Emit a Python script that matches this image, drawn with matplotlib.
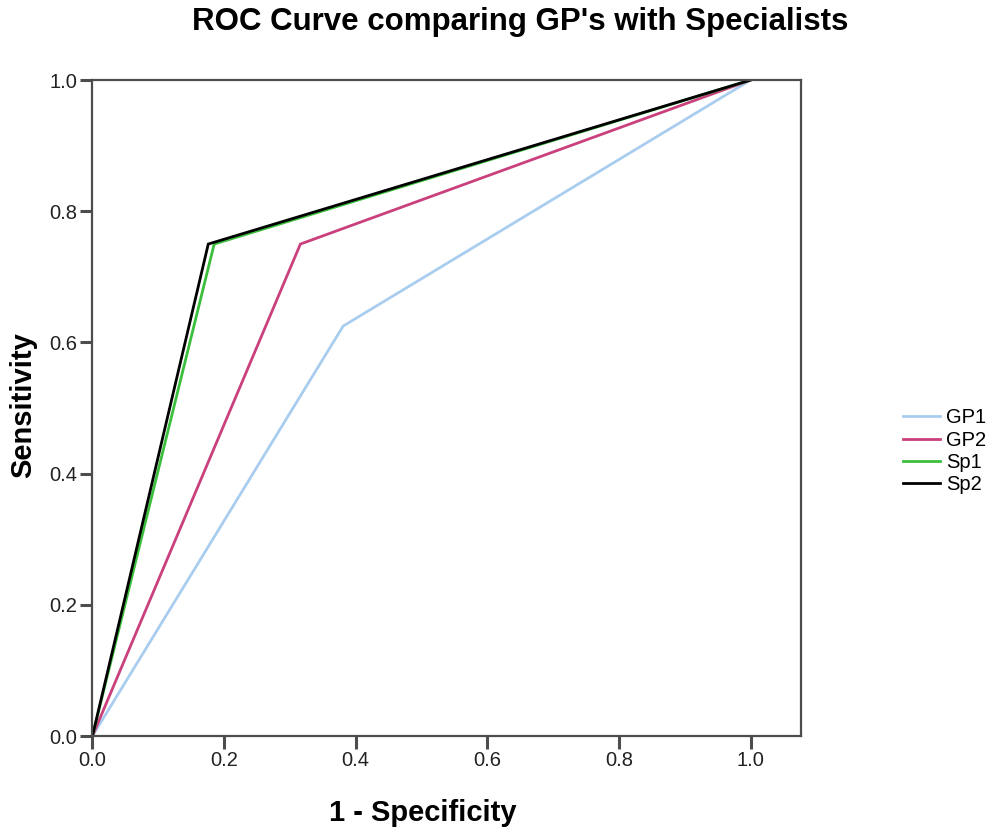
import matplotlib
matplotlib.use("Agg")
import matplotlib.pyplot as plt

# ROC points
series_names = ["GP1", "GP2", "Sp1", "Sp2"]
gp1_fpr = [0.0, 0.381, 1.0]
gp1_tpr = [0.0, 0.625, 1.0]
gp2_fpr = [0.0, 0.316, 1.0]
gp2_tpr = [0.0, 0.75, 1.0]
sp1_fpr = [0.0, 0.185, 1.0]
sp1_tpr = [0.0, 0.75, 1.0]
sp2_fpr = [0.0, 0.176, 1.0]
sp2_tpr = [0.0, 0.75, 1.0]
ticks = [0.0, 0.2, 0.4, 0.6, 0.8, 1.0]
tick_labels = ["0.0", "0.2", "0.4", "0.6", "0.8", "1.0"]

colors = {
    "GP1": "#a9cdef",
    "GP2": "#c9407c",
    "Sp1": "#3cbf3c",
    "Sp2": "#000000",
}

plt.rcParams["font.family"] = ["Liberation Sans", "DejaVu Sans"]

fig = plt.figure(figsize=(9.92, 8.34), dpi=100)
ax = fig.add_axes([0.0932, 0.1175, 0.7138, 0.7865])

data = [
    ("GP1", gp1_fpr, gp1_tpr),
    ("GP2", gp2_fpr, gp2_tpr),
    ("Sp1", sp1_fpr, sp1_tpr),
    ("Sp2", sp2_fpr, sp2_tpr),
]
for name, xs, ys in data:
    ax.plot(xs, ys, color=colors[name], linewidth=2.0, label=name,
            solid_joinstyle="miter")

ax.set_xlim(0, 1.076)
ax.set_ylim(0, 1.0)
ax.set_xticks(ticks)
ax.set_xticklabels(tick_labels)
ax.set_yticks(ticks)
ax.set_yticklabels(tick_labels)

for side in ["left", "right", "top", "bottom"]:
    ax.spines[side].set_color("#4d4d4d")
    ax.spines[side].set_linewidth(1.6)
ax.tick_params(direction="out", length=9, width=2.2, color="#4d4d4d",
               labelsize=14.5, labelcolor="#222222", pad=2)

# titles placed in figure coords to match the reference
fig.text(0.524, 0.9736, "ROC Curve comparing GP's with Specialists",
         ha="center", va="center", fontsize=22.5, fontweight="bold")
fig.text(0.426, 0.025, "1 - Specificity", ha="center", va="center",
         fontsize=21, fontweight="bold")
fig.text(0.0232, 0.514, "Sensitivity", ha="center", va="center",
         rotation=90, fontsize=21, fontweight="bold")

fig.legend(loc="center left", bbox_to_anchor=(0.910, 0.459), frameon=False,
           fontsize=14.5, handlelength=1.85, handletextpad=0.3,
           labelspacing=0.16, borderaxespad=0, borderpad=0)

fig.savefig("out.png", dpi=100)
